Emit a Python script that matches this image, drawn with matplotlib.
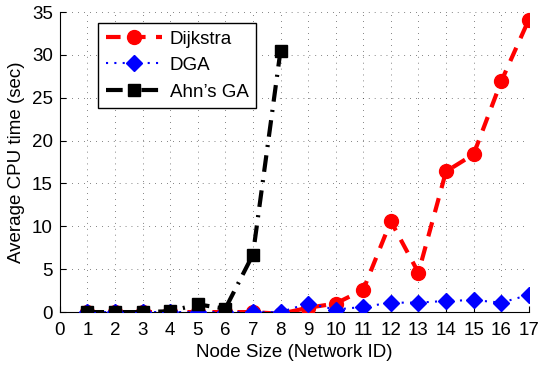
import numpy as np
import matplotlib.pyplot as plt

plt.rcParams['font.family'] = ['Liberation Sans', 'DejaVu Sans']

# Average CPU time per network
node_ids = list(range(1, 18))
dijkstra = [0, 0, 0, 0, 0, 0, 0, -0.2, 0.5, 1.0, 2.6, 10.6, 4.6, 16.4, 18.4, 26.9, 34.1]
dga = [0, 0, 0, 0, 0, 0, 0, 0, 1.0, 0.3, 0.6, 1.1, 1.1, 1.3, 1.4, 1.1, 2.0]
ahn_ids = [1, 2, 3, 4, 5, 6, 7, 8]
ahn_ga = [0, 0, 0, 0.1, 0.9, 0.4, 6.7, 30.5]

fig = plt.figure(figsize=(5.39, 3.65), dpi=100)
ax = fig.add_axes([0.111, 0.145, 0.870, 0.822])

ax.plot(node_ids, dijkstra, color='red', marker='o', markersize=10,
        linewidth=3, dashes=(3.5, 2.5), label='Dijkstra', zorder=3)
ax.plot(node_ids, dga, color='blue', marker='D', markersize=8,
        linewidth=1.5, dashes=(1, 3), label='DGA', zorder=4)
ax.plot(ahn_ids, ahn_ga, color='black', marker='s', markersize=8,
        linewidth=3, dashes=(4, 2, 0.5, 2), label="Ahn\u2019s GA", zorder=5)

ax.set_xlim(0, 17)
ax.set_ylim(0, 35)
ax.set_xticks(range(0, 18))
ax.set_yticks(range(0, 36, 5))
ax.tick_params(direction='in', labelsize=13.5, length=4, width=0.8, pad=5)
ax.tick_params(axis='x', pad=7)
ax.grid(True, color='black', linewidth=0.7, dashes=(0.6, 5.5), alpha=0.8)
ax.spines['top'].set_visible(False)
ax.spines['right'].set_visible(False)

ax.set_xlabel('Node Size (Network ID)', fontsize=13.5, labelpad=4)
ax.set_ylabel('Average CPU time (sec)', fontsize=13.5, labelpad=5)

leg = ax.legend(loc='upper left', bbox_to_anchor=(0.062, 0.995), fontsize=13.5,
                fancybox=False, edgecolor='black', framealpha=1,
                handlelength=3.0, handletextpad=0.4, borderpad=0.4,
                labelspacing=0.5)
leg.get_frame().set_linewidth(1.0)

plt.savefig('out.png', dpi=100)
